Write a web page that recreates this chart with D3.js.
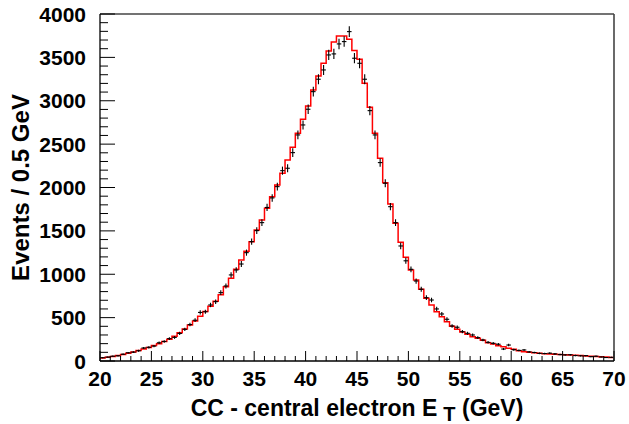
<!DOCTYPE html>
<html>
<head>
<meta charset="utf-8">
<script src="https://cdn.jsdelivr.net/npm/d3@7"></script>
<style>
  html, body { margin: 0; padding: 0; background: #fff; }
  svg { display: block; }
  text { font-family: "Liberation Sans", Arial, Helvetica, sans-serif; font-weight: bold; }
</style>
</head>
<body>
<svg id="chart" width="629" height="424"></svg>
<script>
// Bin lower edges: 20.0 .. 69.5 GeV, bin width 0.5 GeV
const binLow = d3.range(100).map(i => 20 + 0.5 * i);
const binWidth = 0.5;

// Simulation (red histogram), events per bin
const mcValues = [
  35, 42, 52, 62, 75, 90, 105, 120, 138, 155,
  178, 200, 225, 250, 285, 325, 370, 415, 460, 515,
  570, 630, 690, 765, 855, 955, 1057, 1165, 1265, 1376,
  1510, 1626, 1761, 1894, 2029, 2164, 2318, 2464, 2625, 2787,
  2940, 3125, 3286, 3432, 3574, 3678, 3747, 3747, 3709, 3578,
  3478, 3202, 2925, 2625, 2337, 2056, 1810, 1588, 1370, 1196,
  1049, 934, 827, 723, 646, 568, 511, 453, 400, 365,
  335, 307, 280, 262, 238, 211, 196, 176, 165, 146,
  135, 119, 107, 100, 96, 89, 85, 82, 78, 76,
  72, 68, 65, 62, 58, 55, 52, 48, 45, 40
];

// Data (black points with errors), events per bin
const dataValues = [
  38, 45, 55, 60, 78, 95, 102, 118, 150, 158,
  172, 210, 225, 258, 272, 318, 365, 420, 470, 560,
  568, 646, 684, 788, 865, 992, 1049, 1118, 1249, 1376,
  1503, 1595, 1770, 1880, 2010, 2194, 2222, 2402, 2606, 2721,
  2902, 3105, 3248, 3355, 3528, 3540, 3655, 3682, 3797, 3490,
  3432, 3248, 2886, 2606, 2287, 2049, 1779, 1595, 1326, 1155,
  1057, 922, 827, 730, 703, 600, 542, 481, 404, 389,
  338, 319, 300, 269, 242, 215, 204, 193, 138, 184,
  130, 122, 127, 105, 98, 88, 86, 90, 82, 74,
  70, 72, 63, 60, 62, 50, 55, 46, 40, 42
];

const xMajorTicks = [20, 25, 30, 35, 40, 45, 50, 55, 60, 65, 70];
const yMajorTicks = [0, 500, 1000, 1500, 2000, 2500, 3000, 3500, 4000];
const xTitle = "CC - central electron E";
const xTitleSub = "T";
const xTitleEnd = " (GeV)";
const yTitle = "Events / 0.5 GeV";

const svg = d3.select("#chart");
const L = 100, R = 614, T = 14, B = 361;

const x = d3.scaleLinear().domain([20, 70]).range([L, R]);
const y = d3.scaleLinear().domain([0, 4000]).range([B, T]);

// MC step histogram
const stepPts = binLow.map((b, i) => [b, mcValues[i]]);
stepPts.push([70, mcValues[mcValues.length - 1]]);
const line = d3.line().x(d => x(d[0])).y(d => y(d[1])).curve(d3.curveStepAfter);

const plot = svg.append("g");
plot.append("path")
  .datum(stepPts)
  .attr("d", line)
  .attr("fill", "none")
  .attr("stroke", "#ff0000")
  .attr("stroke-width", 1.5);

// Data crosses
const errX = 0.22;
const pts = plot.append("g").attr("stroke", "#000").attr("stroke-width", 1.1);
binLow.forEach((b, i) => {
  const v = dataValues[i];
  const c = b + binWidth / 2;
  const e = Math.sqrt(v);
  pts.append("line")
    .attr("x1", x(c - errX)).attr("x2", x(c + errX))
    .attr("y1", y(v)).attr("y2", y(v));
  pts.append("line")
    .attr("x1", x(c)).attr("x2", x(c))
    .attr("y1", y(v - e)).attr("y2", y(v + e));
});

// Frame: left/bottom axes black, top/right grey
svg.append("line").attr("x1", L).attr("x2", R).attr("y1", T).attr("y2", T)
  .attr("stroke", "#444").attr("stroke-width", 1.6);
svg.append("line").attr("x1", R).attr("x2", R).attr("y1", T).attr("y2", B)
  .attr("stroke", "#444").attr("stroke-width", 1.6);
svg.append("line").attr("x1", L).attr("x2", R).attr("y1", B).attr("y2", B)
  .attr("stroke", "#000").attr("stroke-width", 1.3);
svg.append("line").attr("x1", L).attr("x2", L).attr("y1", T).attr("y2", B)
  .attr("stroke", "#000").attr("stroke-width", 1.3);

// X axis ticks (inside, pointing up)
const xMinor = d3.range(20, 70.001, 1);
const axisG = svg.append("g").attr("stroke", "#000").attr("stroke-width", 1);
xMinor.forEach(v => {
  const major = xMajorTicks.includes(v);
  axisG.append("line")
    .attr("x1", x(v)).attr("x2", x(v))
    .attr("y1", B).attr("y2", B - (major ? 10 : 5));
});
// Y axis ticks (inside, pointing right)
const yMinor = d3.range(0, 4000.001, 100);
yMinor.forEach(v => {
  const major = yMajorTicks.includes(v);
  axisG.append("line")
    .attr("x1", L).attr("x2", L + (major ? 15 : 8))
    .attr("y1", y(v)).attr("y2", y(v));
});

// Tick labels
svg.append("g").selectAll("text").data(xMajorTicks).join("text")
  .attr("x", d => x(d)).attr("y", 386)
  .attr("text-anchor", "middle")
  .attr("font-size", 21)
  .text(d => d);

svg.append("g").selectAll("text").data(yMajorTicks).join("text")
  .attr("x", 86).attr("y", d => y(d) + 7.5)
  .attr("text-anchor", "end")
  .attr("font-size", 21)
  .text(d => d);

// X title
const xt = svg.append("text")
  .attr("x", (L + R) / 2).attr("y", 416)
  .attr("text-anchor", "middle")
  .attr("font-size", 23);
xt.append("tspan").text(xTitle);
xt.append("tspan").attr("dx", 6).attr("dy", 5).attr("font-size", 20).text(xTitleSub);
xt.append("tspan").attr("dy", -5).text(xTitleEnd);

// Y title (centered on the axis)
svg.append("text")
  .attr("transform", `translate(29, ${(T + B) / 2}) rotate(-90)`)
  .attr("text-anchor", "middle")
  .attr("font-size", 24)
  .text(yTitle);
</script>
</body>
</html>
